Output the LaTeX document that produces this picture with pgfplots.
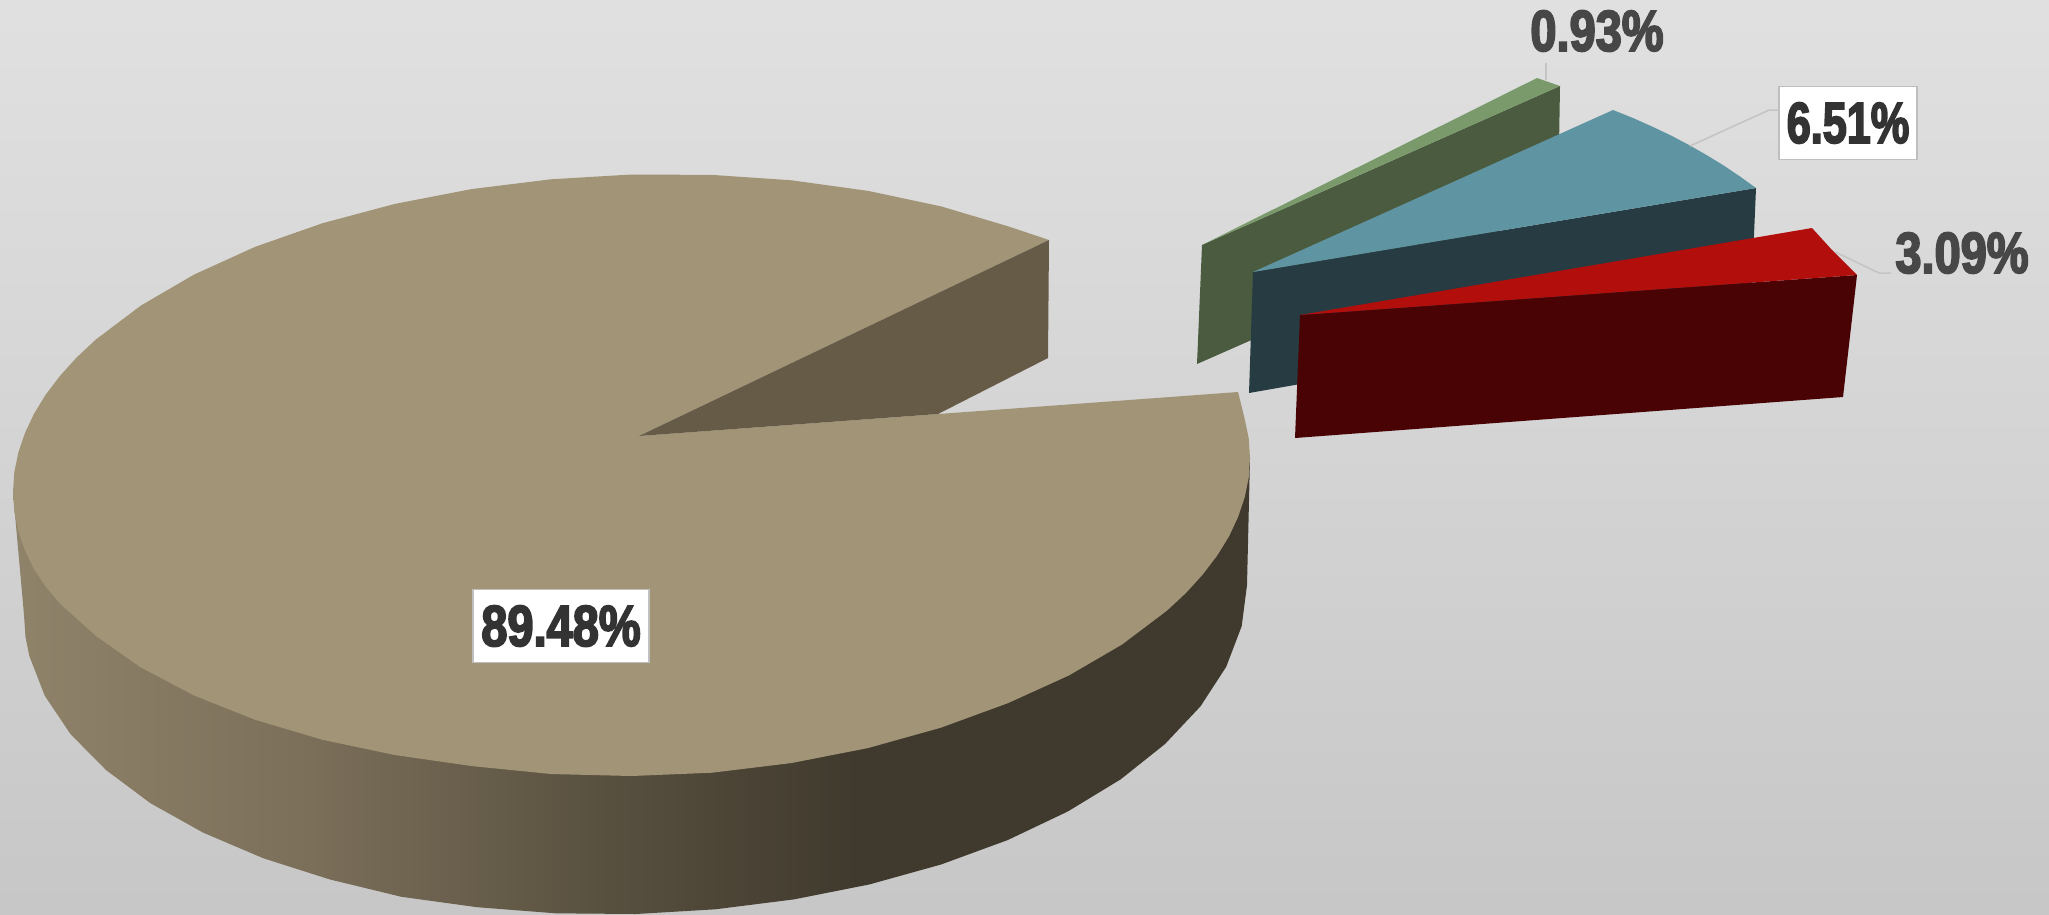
\documentclass[border=0pt]{standalone}
\usepackage{pgfplots}
\pgfplotsset{compat=1.18}
\usepackage{fontspec}
\newfontfamily\imp[FakeStretch=0.81,FakeBold=3]{Liberation Sans Bold}

\definecolor{topbrown}{HTML}{A29577}
\definecolor{wallbrown}{HTML}{665B47}
\definecolor{greentop}{HTML}{7A9A6C}
\definecolor{greenwall}{HTML}{4A5B3F}
\definecolor{bluetop}{HTML}{5F95A2}
\definecolor{bluewall}{HTML}{263B42}
\definecolor{redtop}{HTML}{B20E0C}
\definecolor{redwall}{HTML}{4A0305}
\definecolor{leader}{HTML}{C4C4C4}
\definecolor{sidea}{HTML}{8F836A}
\definecolor{sideb}{HTML}{7B6F5A}
\definecolor{sidec}{HTML}{58503F}
\definecolor{sided}{HTML}{403A2E}

% side of the big slice, lighter to the left
\pgfdeclarehorizontalshading{pieside}{100bp}{
	color(0bp)=(sidea);
	color(25bp)=(sidea);
	color(37bp)=(sideb);
	color(49bp)=(sidec);
	color(59bp)=(sided);
	color(75bp)=(sided);
	color(100bp)=(sided)
}

\begin{document}
\begin{tikzpicture}
	\begin{axis}[
		scale only axis,
		width=2049pt,
		height=914pt,
		xmin=0, xmax=2049,
		ymin=0, ymax=914,
		y dir=reverse,
		hide axis,
	]

	% background
	\addplot[draw=none, top color=black!12, bottom color=black!22] coordinates {
		(0,0) (2049,0) (2049,914) (0,914)
	} --cycle;

	% big slice: side
	\addplot[draw=none, shading=pieside] coordinates {
		(1250,458) (1247,585) (1241.7,626.1) (1226.2,666.8) (1200.5,706.3) (1165,744)
		(1120.7,779.3) (1067.9,811.4) (1007.8,840) (941.3,864.4) (869.5,884.4)
		(793.8,899.4) (715.3,909.3) (635.5,914) (555.7,913.3) (477.2,907.2)
		(401.5,896.8) (329.7,879.4) (263.2,858.2) (203.1,832.6) (150.3,803.1)
		(106,770) (70.5,734.1) (44.8,695.8) (29.3,655.9) (25.5,636.9) (24,615)
		(13,492)
	} --cycle;

	% big slice: top
	\addplot[draw=none, fill=topbrown] coordinates {
		(13,492) (14.3,472.3) (18.3,452.7) (24.9,433.1) (34.1,413.6) (45.8,394.5)
		(60.1,375.7) (76.8,357.3) (95.9,339.5) (140.8,305.6) (194.2,274.5) (255,246.9)
		(322.2,223.3) (394.8,203.9) (471.4,189.1) (550.8,179.3) (631.5,174.5)
		(712.2,174.9) (791.6,180.3) (868.2,190.9) (940.8,206.3) (1008,226.3) (1049,240)
		(639,436) (1238,392)
		(1244.7,418.9) (1248.7,438.3) (1250,458) (1248.7,477.7) (1244.7,497.3)
		(1238.1,516.9) (1229,536.4) (1217.2,555.5) (1202.9,574.3) (1186.2,592.7)
		(1167.1,610.5) (1122.2,644.4) (1068.8,675.5) (1008,703.1) (940.8,727.7)
		(868.2,748) (791.6,763) (712.2,772.7) (631.5,776) (550.8,774) (471.4,766)
		(394.8,755) (322.2,739.7) (255,719.7) (194.2,695.5) (140.8,667.4) (95.9,635.9)
		(60.1,603.7) (45.8,586.7) (34.1,569.2) (24.9,550.3) (18.3,531.1) (14.3,511.7)
	} --cycle;

	% big slice: wall of the gap
	\addplot[draw=none, fill=wallbrown] coordinates {
		(639,436) (1049,240) (1048,358) (938,414)
	} --cycle;

	% 0.93 slice
	\addplot[draw=none, fill=greenwall] coordinates {
		(1202,245) (1560,86) (1558,205) (1197,364)
	} --cycle;
	\addplot[draw=none, fill=greentop] coordinates {
		(1202,245) (1537,78) (1560,86)
	} --cycle;

	% 6.51 slice
	\addplot[draw=none, fill=bluewall] coordinates {
		(1253,272) (1756,188) (1751,305) (1249,393)
	} --cycle;
	\addplot[draw=none, fill=bluetop] coordinates {
		(1253,272) (1613,110) (1633,118) (1652,126.5) (1671,135.5) (1689,145)
		(1706.5,155) (1723.7,165.5) (1740,176.5) (1756,188)
	} --cycle;

	% 3.09 slice
	\addplot[draw=none, fill=redwall] coordinates {
		(1300,315) (1857,275) (1843,397) (1295,438)
	} --cycle;
	\addplot[draw=none, fill=redtop] coordinates {
		(1300,315) (1812,228) (1832,250) (1857,275)
	} --cycle;

	% leader lines
	\addplot[leader, line width=1.5pt] coordinates {(1546,63) (1546,80)};
	\addplot[leader, line width=1.5pt] coordinates {(1690,146) (1769,110) (1779,110)};
	\addplot[leader, line width=1.5pt] coordinates {(1835,252) (1879,273) (1891,273)};

	% value labels
	\node[fill=white, draw=black!25, line width=1.5pt, minimum width=176pt, minimum height=73pt, inner sep=0pt, text=black!80]
		at (axis cs:561,626) {\fontsize{58}{58}\imp 89.48\%};
	\node[fill=white, draw=black!25, line width=1.5pt, minimum width=138pt, minimum height=73pt, inner sep=0pt, text=black!80]
		at (axis cs:1848,123) {\scalebox{0.92}[1]{\fontsize{58}{58}\imp 6.51\%}};
	\node[inner sep=0pt, text=black!72] at (axis cs:1597,31) {\fontsize{58}{58}\imp 0.93\%};
	\node[inner sep=0pt, text=black!72] at (axis cs:1962,253) {\fontsize{58}{58}\imp 3.09\%};
	\end{axis}
\end{tikzpicture}
\end{document}
